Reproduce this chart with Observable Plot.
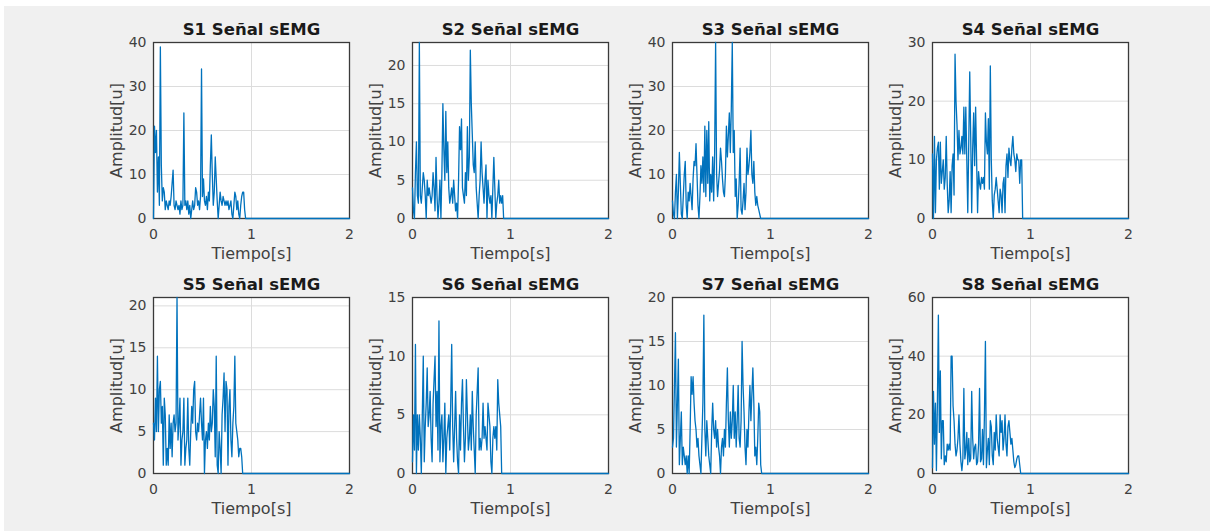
<!DOCTYPE html>
<html>
<head>
<meta charset="utf-8">
<script src="https://cdn.jsdelivr.net/npm/d3@7"></script>
<script src="https://cdn.jsdelivr.net/npm/@observablehq/plot@0.6"></script>
<style>
  html, body { margin: 0; padding: 0; background: #ffffff; }
  #page { position: relative; width: 1210px; height: 531px; overflow: hidden; background: #ffffff; }
  #bg { position: absolute; left: 4px; top: 6px; width: 1206px; height: 525px; background: #f0f0f0; }
  .cell { position: absolute; }
</style>
</head>
<body>
<div id="page"><div id="bg"></div></div>
<script>
// ---- Data ----
const titles = ["S1 Señal sEMG","S2 Señal sEMG","S3 Señal sEMG","S4 Señal sEMG","S5 Señal sEMG","S6 Señal sEMG","S7 Señal sEMG","S8 Señal sEMG"];
const xLabel = "Tiempo[s]";
const yLabel = "Amplitud[u]";
const xTicks = [0, 1, 2];
const xMax = 2;
const dt = 0.01; // sample spacing in seconds

const s1 = [0,21,15,20,6,14,3,39,12,4,7,6,2,4,3,2,4,3,5,8,11,3,2,4,3,2,3,1,4,2,3,24,3,4,2,4,1,3,0,2,4,2,3,7,6,3,4,2,5,34,5,9,4,3,5,2,6,4,12,19,10,3,6,14,9,4,0,3,6,4,3,5,4,3,4,3,4,2,3,4,1,0,3,6,5,2,4,1,0,3,5,6,6,2,0];
const s2 = [4,1,0,6,10,3,2,23,3,2,4,6,5,3,0,5,3,4,3,2,3,6,4,1,8,3,0,2,5,0,6,15,9,5,14,6,10,4,2,3,4,2,5,3,1,2,0,5,12,9,13,4,3,2,6,3,12,5,8,22,15,11,7,6,10,4,2,0,3,5,10,6,4,2,5,7,0,5,3,2,3,0,4,8,4,0,2,3,5,2,3,2,3,0];
const s3 = [4,1,0,6,10,0,6,15,8,1,0,5,10,13,3,0,6,4,8,5,2,9,13,12,17,10,3,0,5,12,8,14,6,21,5,20,8,22,4,10,6,14,4,15,40,10,5,8,11,16,13,9,6,5,10,21,14,19,24,15,25,40,15,20,5,9,0,3,8,16,2,1,4,8,2,6,16,10,12,15,20,10,8,13,6,3,5,3,2,1,0,0,0];
const s4 = [11,0,14,1,10,12,13,5,13,6,8,10,5,7,14,6,1,3,8,1,9,11,4,28,20,16,10,15,11,12,14,11,19,11,19,10,1,13,25,14,1,12,18,9,19,10,1,8,6,5,7,6,7,5,18,13,11,17,5,26,10,3,0,4,5,7,5,3,1,5,4,1,6,7,1,9,11,7,12,10,9,12,14,11,10,8,11,10,10,6,10,10,0];
const s5 = [6,4,9,5,14,5,10,11,6,8,1,9,7,1,3,1,7,3,6,2,6,7,5,6,21,4,6,9,1,4,5,9,1,3,4,9,3,1,5,8,6,10,11,5,4,6,5,7,9,6,4,9,0,4,5,3,6,4,8,5,6,10,8,2,14,1,0,5,3,0,7,9,12,5,11,10,1,8,10,4,2,6,8,14,6,5,4,2,3,3,2,0];
const s6 = [1,5,2,11,0,5,2,5,3,0,5,10,1,4,6,9,4,5,7,3,1,6,8,10,4,7,2,13,1,4,5,1,3,6,0,3,4,5,2,6,11,4,1,4,7,3,1,0,5,2,6,8,4,1,3,8,5,2,3,5,2,7,4,2,0,5,7,9,2,3,2,3,6,3,4,3,2,6,5,4,1,0,3,4,3,4,2,8,6,5,4,0];
const s7 = [3,4,10,16,3,8,13,1,4,7,1,3,2,1,2,0,2,0,5,11,9,11,8,6,5,3,4,2,1,0,4,8,18,5,2,6,4,2,1,0,5,8,5,4,6,3,5,3,2,0,3,4,2,5,3,8,12,6,3,7,4,6,10,4,7,3,6,10,4,3,6,15,10,7,3,1,5,3,7,10,6,9,12,8,2,3,1,4,8,7,1,0];
const s8 = [2,28,10,24,1,24,54,14,35,5,18,18,3,6,4,10,8,10,8,40,40,23,18,10,6,8,12,20,10,4,1,5,29,5,8,14,3,12,4,5,28,12,5,9,10,3,4,10,29,4,5,15,3,20,45,2,8,12,3,18,16,6,3,14,8,20,12,9,6,20,14,18,8,12,20,10,6,16,18,14,10,12,8,4,2,3,5,6,6,3,0];
const series = [s1, s2, s3, s4, s5, s6, s7, s8];

const yMaxes = [40, 23, 40, 30, 21, 15, 20, 60];
const yTickSets = [
  [0,10,20,30,40],
  [0,5,10,15,20],
  [0,10,20,30,40],
  [0,10,20,30],
  [0,5,10,15,20],
  [0,5,10,15],
  [0,5,10,15,20],
  [0,20,40,60]
];

// ---- Layout ----
const plotLefts = [153, 412, 672, 932];
const plotTops = [42, 297];
const mL = 60, mR = 4, mT = 42, mB = 47;
const plotW = 196, plotH = 176;

const page = document.getElementById("page");
const font = "DejaVu Sans";

series.forEach((vals, k) => {
  const data = vals.map((v, i) => ({t: i * dt, v}));
  data.push({t: xMax, v: 0});
  const col = k % 4, row = Math.floor(k / 4);

  const chart = Plot.plot({
    width: mL + plotW + mR,
    height: mT + plotH + mB,
    marginLeft: mL, marginRight: mR, marginTop: mT, marginBottom: mB,
    style: {background: "transparent", fontFamily: font, overflow: "visible"},
    x: {domain: [0, xMax], label: null},
    y: {domain: [0, yMaxes[k]], label: null, clamp: true},
    marks: [
      Plot.frame({fill: "white", stroke: null}),
      Plot.gridX(xTicks, {stroke: "#dcdcdc", strokeOpacity: 1, strokeWidth: 1}),
      Plot.gridY(yTickSets[k], {stroke: "#dcdcdc", strokeOpacity: 1, strokeWidth: 1}),
      Plot.frame({stroke: "#3a3a3a", strokeWidth: 1.3}),
      Plot.line(data, {x: "t", y: "v", stroke: "#0072bd", strokeWidth: 1.3}),
      Plot.axisX(xTicks, {tickSize: 0, tickPadding: 11, fontSize: 14, fill: "#404040", label: null}),
      Plot.axisY(yTickSets[k], {tickSize: 0, tickPadding: 7, fontSize: 14, fill: "#404040", label: null}),
      Plot.text([titles[k]], {frameAnchor: "top", dy: -8, lineAnchor: "bottom", fontWeight: "bold", fontSize: 16.5, fill: "#1a1a1a"}),
      Plot.text([xLabel], {frameAnchor: "bottom", dy: 40, fontSize: 16, fill: "#404040"}),
      Plot.text([yLabel], {frameAnchor: "left", dx: -37, rotate: -90, textAnchor: "middle", fontSize: 16, fill: "#404040"})
    ]
  });
  const cell = document.createElement("div");
  cell.className = "cell";
  cell.style.left = (plotLefts[col] - mL) + "px";
  cell.style.top = (plotTops[row] - mT) + "px";
  cell.appendChild(chart);
  page.appendChild(cell);
});
</script>
</body>
</html>
